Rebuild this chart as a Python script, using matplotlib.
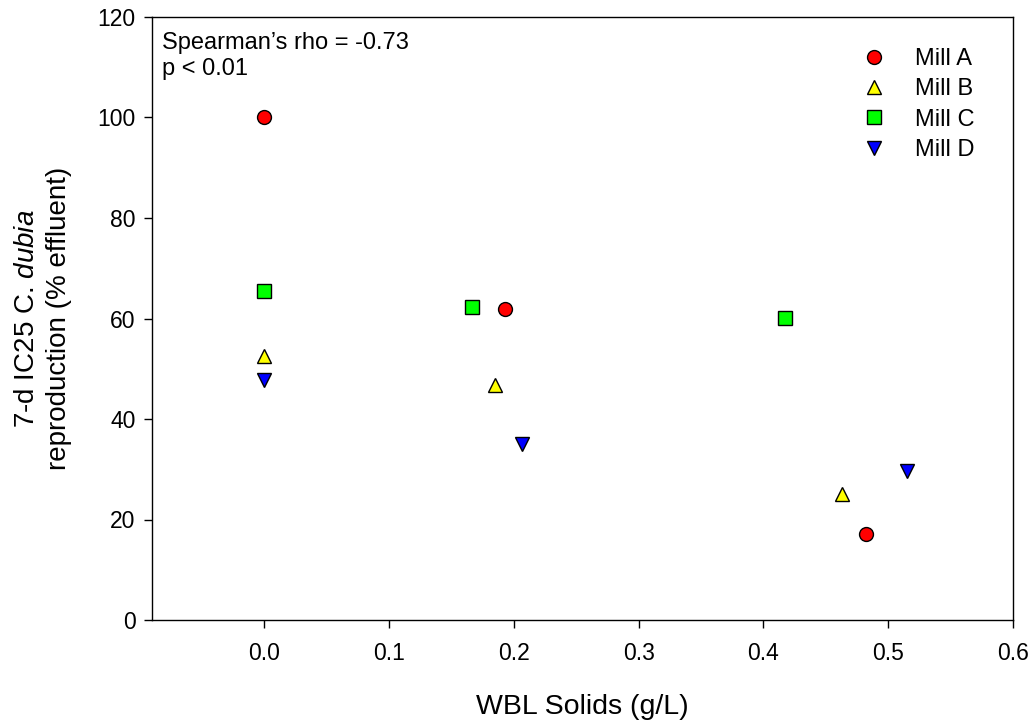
import matplotlib
matplotlib.use('Agg')
import matplotlib.pyplot as plt

plt.rcParams['font.family'] = ['Liberation Sans', 'DejaVu Sans']
plt.rcParams['mathtext.fontset'] = 'custom'
plt.rcParams['mathtext.it'] = 'Liberation Sans:italic'
plt.rcParams['mathtext.rm'] = 'Liberation Sans'

# WBL solids (g/L) and 7-d IC25 (% effluent) per mill
mill_a_x = [0.0, 0.1925, 0.4825]
mill_a_y = [100.1, 61.8, 17.1]
mill_b_x = [0.0, 0.185, 0.4627]
mill_b_y = [52.5, 46.7, 25.0]
mill_c_x = [0.0, 0.1668, 0.4173]
mill_c_y = [65.4, 62.2, 60.1]
mill_d_x = [0.0, 0.2064, 0.515]
mill_d_y = [47.7, 35.0, 29.6]

labels = ['Mill A', 'Mill B', 'Mill C', 'Mill D']
colors = ['#ff0000', '#ffff00', '#00ff00', '#0000ff']
markers = ['o', '^', 's', 'v']
msizes = [10, 10.5, 9.5, 10.5]

xs = [mill_a_x, mill_b_x, mill_c_x, mill_d_x]
ys = [mill_a_y, mill_b_y, mill_c_y, mill_d_y]

fig = plt.figure(figsize=(10.35, 7.24), dpi=100)
ax = fig.add_axes([152/1035, 1-620/724, (1013-152)/1035, (620-17)/724])

for i in range(4):
    ax.plot(xs[i], ys[i], linestyle='none', marker=markers[i], markersize=msizes[i],
            markerfacecolor=colors[i], markeredgecolor='black', markeredgewidth=1.0,
            label=labels[i])

ax.set_xlim(-0.09, 0.6)
ax.set_ylim(0, 120)
ax.set_xticks([0.0, 0.1, 0.2, 0.3, 0.4, 0.5, 0.6])
ax.set_xticklabels(['0.0', '0.1', '0.2', '0.3', '0.4', '0.5', '0.6'])
ax.set_yticks([0, 20, 40, 60, 80, 100, 120])
ax.tick_params(axis='x', direction='out', length=5.8, width=1.0, labelsize=16.5, pad=10)
ax.tick_params(axis='y', direction='out', length=5.8, width=1.0, labelsize=16.5, pad=6)
for s in ax.spines.values():
    s.set_linewidth(1.0)

ax.set_xlabel('WBL Solids (g/L)', fontsize=20.5, labelpad=21)
ax.set_ylabel('7-d IC25 C. $\\it{dubia}$\nreproduction (% effluent)', fontsize=20,
              labelpad=18, linespacing=1.3)

ax.text(0.012, 0.975, 'Spearman\u2019s rho = -0.73\np < 0.01', transform=ax.transAxes,
        fontsize=17, va='top', ha='left', linespacing=1.25)

leg = ax.legend(loc='upper left', bbox_to_anchor=(0.807, 0.964), frameon=False,
                fontsize=17, labelspacing=0.35, handletextpad=1.0, borderaxespad=0.0,
                borderpad=0.4, handlelength=1.5)

fig.savefig('out.png', dpi=100)
